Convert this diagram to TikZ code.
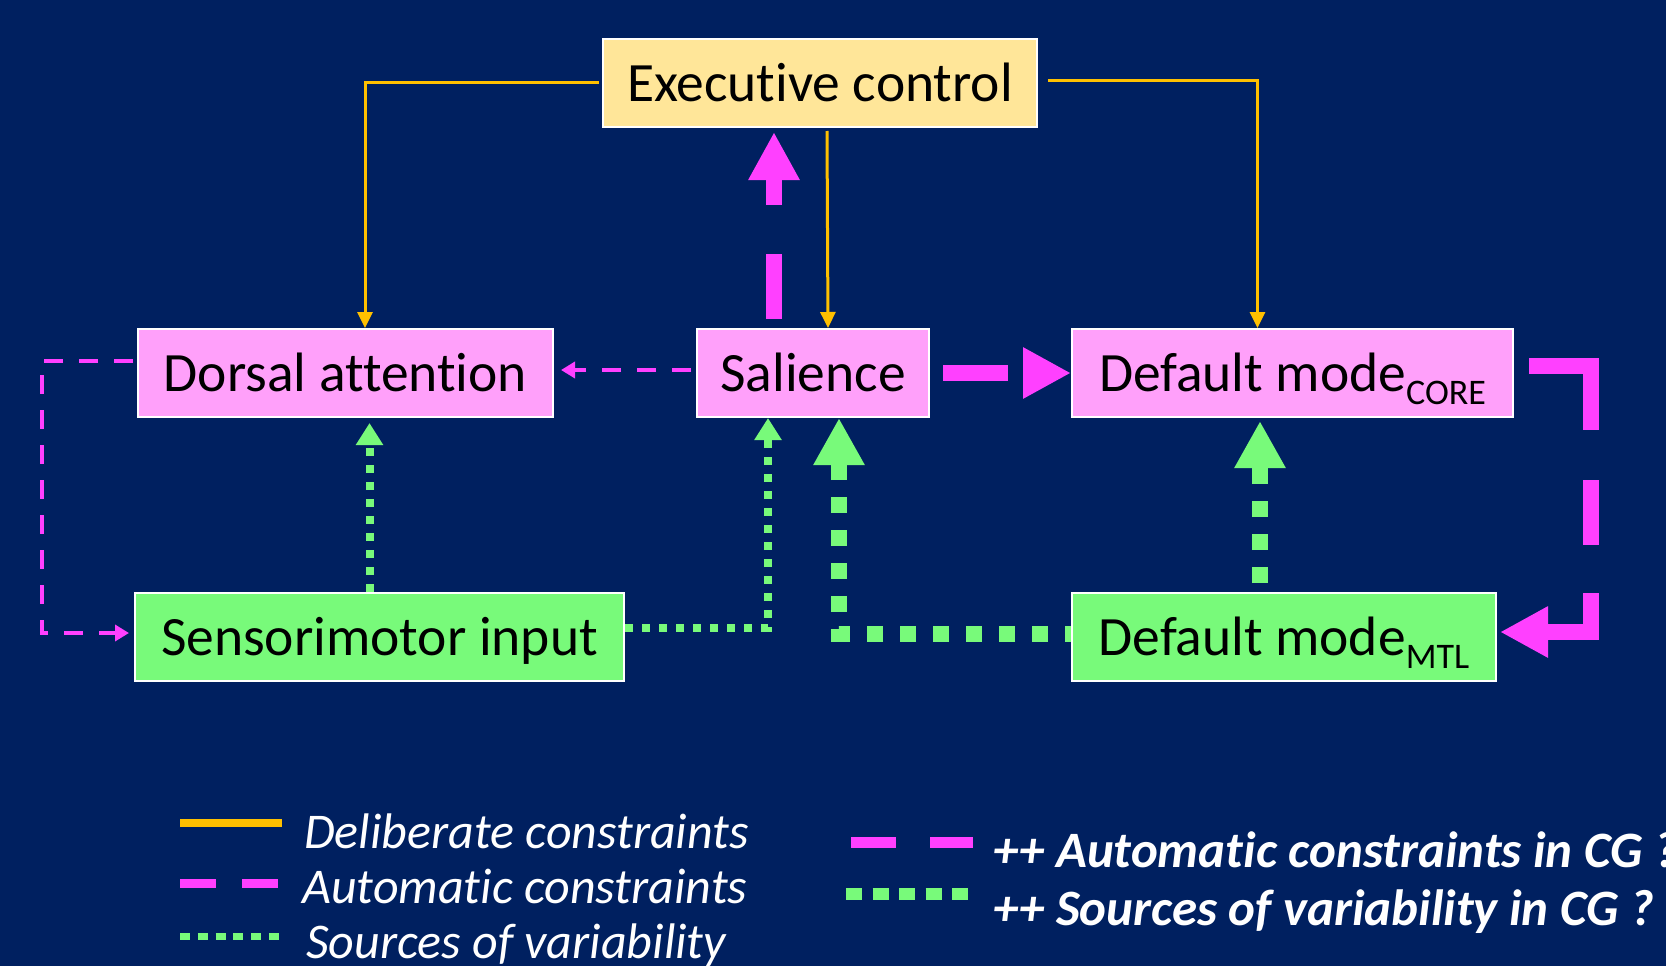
\documentclass[tikz,border=0pt]{standalone}
\usepackage{fontspec}
\setmainfont{Carlito}[Ligatures={NoCommon,NoContextual}]
\usetikzlibrary{arrows.meta}
\definecolor{bgC}{HTML}{002060}
\definecolor{execC}{HTML}{FFE699}
\definecolor{pinkC}{HTML}{FFA0FA}
\definecolor{greenC}{HTML}{78FA7A}
\definecolor{magC}{HTML}{FF40FF}
\definecolor{orangeC}{HTML}{FFC000}
\tikzset{
  box/.style={draw=white, line width=2pt, minimum height=88pt, inner sep=0pt,
    text height=36pt, text depth=0pt, font=\fontsize{55.5}{60}\selectfont, text=black},
  delib/.style={draw=orangeC, line width=3pt, -{Triangle[width=15pt,length=16pt]}},
  autothin/.style={draw=magC, line width=4.5pt, dash pattern=on 19pt off 16pt, -{Triangle[width=16pt,length=14pt]}},
  autothick/.style={draw=magC, line width=16pt, dash pattern=on 65pt off 49pt, -{Triangle[width=48pt,length=48pt]}},
  varthin/.style={draw=greenC, line width=8pt, dash pattern=on 8pt off 9pt, -{Triangle[width=26pt,length=22pt]}},
  varthick/.style={draw=greenC, line width=16pt, dash pattern=on 16pt off 17pt, -{Triangle[width=48pt,length=47pt]}},
  legtext/.style={anchor=base west, inner sep=0pt, text=white},
}
\newcommand{\subtxt}[1]{\raisebox{-13pt}{\fontsize{36}{40}\selectfont #1}}
\begin{document}
\begin{tikzpicture}[x=1pt,y=-1pt]
\fill[bgC] (0,0) rectangle (1666,966);
\useasboundingbox (0,0) rectangle (1666,966);

% boxes
\node[box, fill=execC, minimum width=434pt] (exec) at (820,83) {Executive control};
\node[box, fill=pinkC, minimum width=415pt] (dorsal) at (345.5,373) {Dorsal attention};
\node[box, fill=pinkC, minimum width=232pt] (salience) at (813,373) {Salience};
\node[box, fill=pinkC, minimum width=441pt] (core) at (1292.5,373) {Default mode\subtxt{CORE}};
\node[box, fill=greenC, minimum width=489pt] (sensor) at (379.5,637) {Sensorimotor input};
\node[box, fill=greenC, minimum width=424pt] (mtl) at (1284,637) {Default mode\subtxt{MTL}};

% deliberate constraints
\draw[delib] ([xshift=-3pt]exec.west) -| ([xshift=19.5pt]dorsal.north);
\draw[delib] ([xshift=10pt,yshift=2pt]exec.east) -| ([xshift=-35pt]core.north);
\draw[delib] ([xshift=7pt,yshift=-3pt]exec.south) -- ([xshift=15pt]salience.north);

% automatic constraints
\draw[autothick] ([xshift=-39pt,yshift=9pt]salience.north) -- ([xshift=-46pt,yshift=-4pt]exec.south);
\draw[autothick] ([xshift=13pt]salience.east) -- (core.west);
\draw[autothick, dash pattern=on 126pt off 50pt on 65pt off 48pt on 300pt off 10pt]
  ([xshift=15pt,yshift=7pt]core.east) -- ++(62,0) |- ([xshift=3pt,yshift=5pt]mtl.east);
\draw[autothin] ([xshift=-5pt,yshift=3pt]salience.west) -- ([xshift=7pt,yshift=3pt]dorsal.east);
\draw[autothin] ([xshift=-4pt,yshift=12pt]dorsal.west) -- ++(-91,0) |- ([xshift=-5pt,yshift=4pt]sensor.west);

% sources of variability
\draw[varthin] ([xshift=-10pt]sensor.north) -- ([xshift=24pt,yshift=-5pt]dorsal.south);
\draw[varthin] ([yshift=9pt]sensor.east) -| ([xshift=-45pt]salience.south);
\draw[varthick, dash phase=10pt] ([yshift=3pt]mtl.west) -| ([xshift=26pt]salience.south);
\draw[varthick] ([xshift=-24pt,yshift=9pt]mtl.north) -- ([xshift=-32.5pt,yshift=-3pt]core.south);

% legend samples
\coordinate (la1) at (180,823); \coordinate (lb1) at (282,823);
\coordinate (la2) at (180,883); \coordinate (lb2) at (278,883);
\coordinate (la3) at (180,936); \coordinate (lb3) at (280,936);
\coordinate (ra1) at (851,842); \coordinate (rb1) at (973,842);
\coordinate (ra2) at (846,894); \coordinate (rb2) at (968,894);
\draw[orangeC, line width=8pt] (la1) -- (lb1);
\draw[magC, line width=9pt, dash pattern=on 36pt off 26pt] (la2) -- (lb2);
\draw[greenC, line width=7pt, dash pattern=on 10pt off 7.8pt] (la3) -- (lb3);
\draw[magC, line width=11pt, dash pattern=on 45pt off 34pt] (ra1) -- (rb1);
\draw[greenC, line width=12pt, dash pattern=on 16pt off 10.5pt] (ra2) -- (rb2);

% legend texts
\node[legtext, font=\fontsize{50}{52}\selectfont\itshape] (lt1) at (304,848) {Deliberate constraints};
\node[legtext, font=\fontsize{50}{52}\selectfont\itshape] (lt2) at (302,903) {Automatic constraints};
\node[legtext, font=\fontsize{50}{52}\selectfont\itshape] (lt3) at (306,958) {Sources of variability};
\node[legtext, font=\fontsize{51}{54}\selectfont\bfseries\itshape] (rt1) at (993,867) {++ Automatic constraints in CG ?};
\node[legtext, font=\fontsize{51}{54}\selectfont\bfseries\itshape] (rt2) at (993,925) {++ Sources of variability in CG ?};
\end{tikzpicture}
\end{document}
